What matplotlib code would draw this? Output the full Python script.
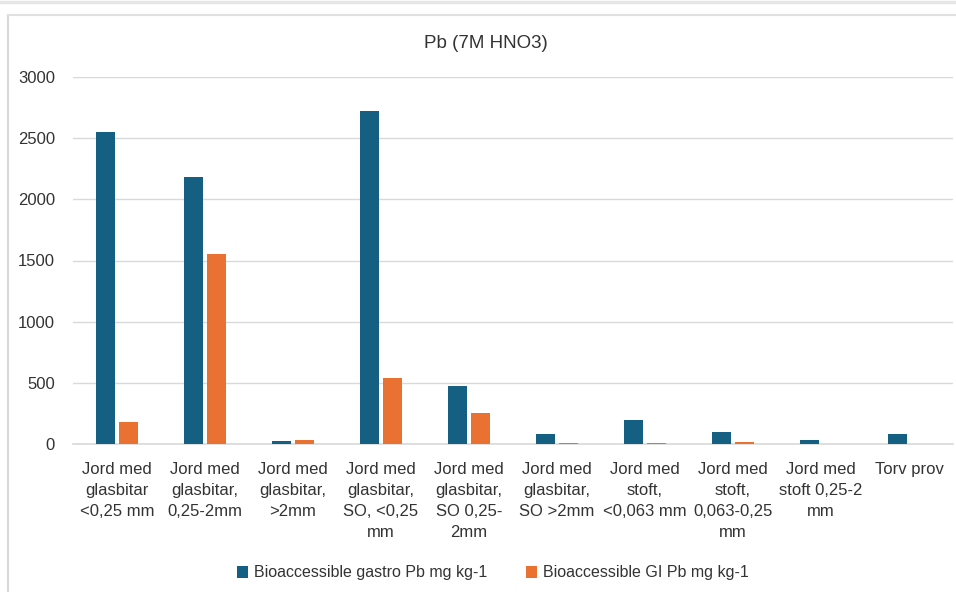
import matplotlib
matplotlib.use("Agg")
import matplotlib.pyplot as plt
import numpy as np
from matplotlib.lines import Line2D

categories = [
    "Jord med\nglasbitar\n<0,25 mm",
    "Jord med\nglasbitar,\n0,25-2mm",
    "Jord med\nglasbitar,\n>2mm",
    "Jord med\nglasbitar,\nSO, <0,25\nmm",
    "Jord med\nglasbitar,\nSO 0,25-\n2mm",
    "Jord med\nglasbitar,\nSO >2mm",
    "Jord med\nstoft,\n<0,063 mm",
    "Jord med\nstoft,\n0,063-0,25\nmm",
    "Jord med\nstoft 0,25-2\nmm",
    "Torv prov",
]
gastro = [2550, 2180, 25, 2725, 475, 85, 195, 100, 33, 85]
gi = [178, 1555, 35, 540, 252, 12, 12, 20, 0, 0]
series_names = ["Bioaccessible gastro Pb mg kg-1", "Bioaccessible GI Pb mg kg-1"]
yticks = [0, 500, 1000, 1500, 2000, 2500, 3000]
title = "Pb (7M HNO3)"

blue = "#156082"
orange = "#E97132"
grid_c = "#D9D9D9"
text_c = "#333333"

plt.rcParams["font.family"] = ["Liberation Sans", "DejaVu Sans"]

fig = plt.figure(figsize=(9.56, 5.92), dpi=100)
fig.patch.set_facecolor("white")

W, H = 956, 592
# decorative frame lines (screenshot borders)
fig.add_artist(Line2D([0, 1], [1 - 2 / H, 1 - 2 / H], transform=fig.transFigure,
                      color="#E6E6E6", lw=2.5))
fig.add_artist(Line2D([8 / W, 8 / W], [0, 1 - 15 / H], transform=fig.transFigure,
                      color="#D9D9D9", lw=1.5))
fig.add_artist(Line2D([8 / W, 1], [1 - 15 / H, 1 - 15 / H], transform=fig.transFigure,
                      color="#E0E0E0", lw=1.5))

left, right = 73 / W, 953 / W
bottom, top = 1 - 444 / H, 1 - 77 / H
ax = fig.add_axes([left, bottom, right - left, top - bottom])

x = np.arange(len(categories))
bw = 0.215
off = 0.132
ax.bar(x - off, gastro, width=bw, color=blue, label=series_names[0], zorder=3)
ax.bar(x + off, gi, width=bw, color=orange, label=series_names[1], zorder=3)

ax.set_xlim(-0.5, len(categories) - 0.5)
ax.set_ylim(0, 3000)
ax.set_yticks(yticks)
ax.set_yticklabels([str(v) for v in yticks])
ax.set_xticks(x)
ax.set_xticklabels(categories, linespacing=1.5)
ax.tick_params(axis="both", length=0, labelsize=12, labelcolor=text_c)
ax.tick_params(axis="y", pad=13)
ax.tick_params(axis="x", pad=13)
ax.yaxis.grid(True, color=grid_c, lw=1.0, zorder=0)
for s in ["top", "right", "left"]:
    ax.spines[s].set_visible(False)
ax.spines["bottom"].set_color(grid_c)
ax.spines["bottom"].set_linewidth(1.2)

fig.text(486 / W, 1 - 43 / H, title, ha="center", va="center", fontsize=13.5, color=text_c)

fig.legend(loc="center", bbox_to_anchor=(493 / W, 1 - 573 / H), ncol=2, frameon=False,
           fontsize=11.5, handlelength=0.7, handleheight=0.7, columnspacing=2.4,
           handletextpad=0.4, labelcolor=text_c)

fig.savefig("out.png", dpi=100)
